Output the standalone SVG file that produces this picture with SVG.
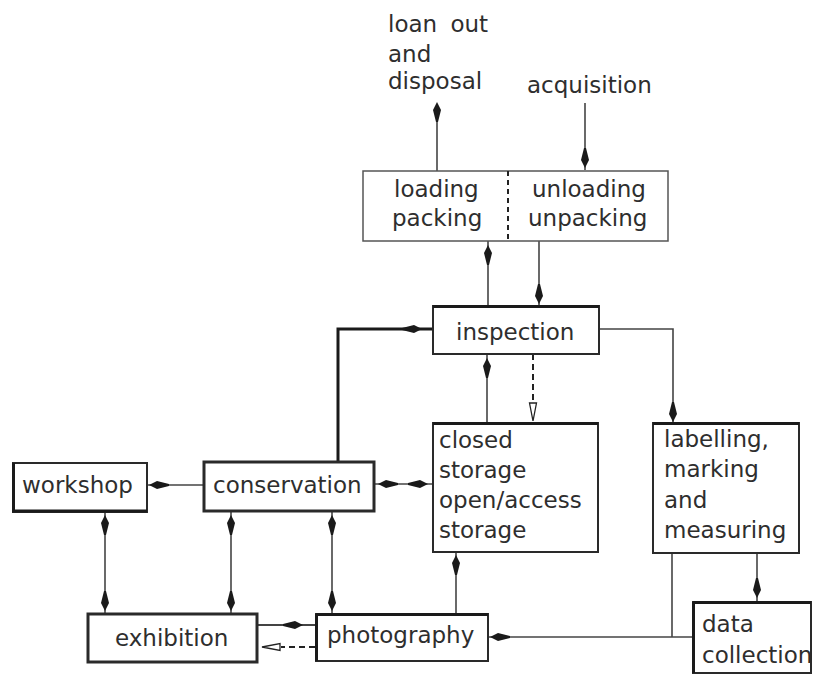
<svg xmlns="http://www.w3.org/2000/svg" xmlns:xlink="http://www.w3.org/1999/xlink" width="813" height="675" viewBox="0 0 813 675">
<style>
  text { font-family: "DejaVu Sans", "Liberation Sans", sans-serif; font-size: 23px; fill: #2e2e2e; }
  .box { fill: #ffffff; stroke: #2a2a2a; stroke-width: 2; }
  .thin { stroke-width: 1.5; stroke: #555; }
  .thick { stroke-width: 3; }
  .ln { fill: none; stroke: #444; stroke-width: 1.6; }
  .hv { fill: none; stroke: #1a1a1a; stroke-width: 3; }
  .ds { fill: none; stroke: #222; stroke-width: 2; stroke-dasharray: 6 4; }
  .ah { fill: #1a1a1a; }
  .oh { fill: #ffffff; stroke: #222; stroke-width: 1.3; }
</style>
<defs>
  <polygon id="ah" class="ah" points="0,0 -8,-4 -20,-1 -20,1 -8,4"/>
  <polygon id="oh" class="oh" points="0,0 -18,-3.5 -18,3.5"/>
</defs>
<rect width="813" height="675" fill="#ffffff"/>

<g id="connectors">
  <!-- loan out -->
  <line class="ln" x1="437" y1="171" x2="437" y2="104"/>
  <use href="#ah" transform="translate(437,102) rotate(-90)"/>
  <!-- acquisition -->
  <line class="ln" x1="585" y1="103" x2="585" y2="170"/>
  <use href="#ah" transform="translate(585,168) rotate(90)"/>
  <!-- inspection -> loading -->
  <line class="ln" x1="488" y1="306" x2="488" y2="241"/>
  <use href="#ah" transform="translate(488,245) rotate(-90)"/>
  <!-- unloading -> inspection -->
  <line class="ln" x1="539" y1="241" x2="539" y2="306"/>
  <use href="#ah" transform="translate(539,304) rotate(90)"/>
  <!-- storage -> inspection -->
  <line class="ln" x1="487" y1="423" x2="487" y2="354"/>
  <use href="#ah" transform="translate(487,358) rotate(-90)"/>
  <!-- dashed inspection -> storage -->
  <line class="ds" x1="533" y1="354" x2="533" y2="400"/>
  <use href="#oh" transform="translate(533,421) rotate(90)"/>
  <!-- conservation -> inspection (heavy) -->
  <polyline class="hv" points="338,462 338,329 433,329"/>
  <use href="#ah" transform="translate(422,329)"/>
  <!-- inspection -> labelling -->
  <polyline class="ln" points="599,329 673,329 673,422"/>
  <use href="#ah" transform="translate(673,422) rotate(90)"/>
  <!-- labelling -> data collection -->
  <line class="ln" x1="757" y1="553" x2="757" y2="602"/>
  <use href="#ah" transform="translate(757,598) rotate(90)"/>
  <!-- labelling / data collection -> photography -->
  <line class="ln" x1="672" y1="553" x2="672" y2="637"/>
  <line class="ln" x1="693" y1="637" x2="488" y2="637"/>
  <use href="#ah" transform="translate(490,637) rotate(180)"/>
  <!-- photography -> storage -->
  <line class="ln" x1="456" y1="614" x2="456" y2="552"/>
  <use href="#ah" transform="translate(456,555) rotate(-90)"/>
  <!-- conservation -> workshop -->
  <line class="ln" x1="203" y1="485" x2="147" y2="485"/>
  <use href="#ah" transform="translate(149,485) rotate(180)"/>
  <!-- conservation <-> storage -->
  <line class="ln" x1="374" y1="484" x2="433" y2="484"/>
  <use href="#ah" transform="translate(378,484) rotate(180)"/>
  <use href="#ah" transform="translate(428,484)"/>
  <!-- workshop <-> exhibition -->
  <line class="ln" x1="105" y1="512" x2="105" y2="614"/>
  <use href="#ah" transform="translate(105,515) rotate(-90)"/>
  <use href="#ah" transform="translate(105,611) rotate(90)"/>
  <!-- conservation <-> exhibition -->
  <line class="ln" x1="231" y1="511" x2="231" y2="614"/>
  <use href="#ah" transform="translate(231,515) rotate(-90)"/>
  <use href="#ah" transform="translate(231,611) rotate(90)"/>
  <!-- conservation <-> photography -->
  <line class="ln" x1="332" y1="511" x2="332" y2="614"/>
  <use href="#ah" transform="translate(332,515) rotate(-90)"/>
  <use href="#ah" transform="translate(332,611) rotate(90)"/>
  <!-- exhibition -> photography -->
  <line class="ln" x1="257" y1="625" x2="315" y2="625" style="stroke-width:2.2"/>
  <use href="#ah" transform="translate(303,625)"/>
  <!-- dashed photography -> exhibition -->
  <line class="ds" x1="315" y1="647" x2="281" y2="647"/>
  <use href="#oh" transform="translate(262,647) rotate(180)"/>
</g>

<g id="loan-out">
  <text x="388" y="32" word-spacing="6">loan out</text>
  <text x="388" y="62">and</text>
  <text x="388" y="89">disposal</text>
</g>
<g id="acquisition">
  <text x="527" y="93">acquisition</text>
</g>

<g id="loading">
  <rect class="box thin" x="363" y="171" width="305" height="70"/>
  <line x1="508" y1="171" x2="508" y2="241" stroke="#222" stroke-width="2" stroke-dasharray="5 4"/>
  <text x="394" y="197">loading</text>
  <text x="392" y="226">packing</text>
  <text x="532" y="197">unloading</text>
  <text x="528" y="226">unpacking</text>
</g>

<g id="inspection">
  <rect class="box" x="433" y="306" width="166" height="48"/>
  <line x1="433" y1="306.5" x2="599" y2="306.5" stroke="#1a1a1a" stroke-width="3"/>
  <text x="456" y="340">inspection</text>
</g>

<g id="storage">
  <rect class="box" x="433" y="423" width="165" height="129"/>
  <line x1="433" y1="423.5" x2="598" y2="423.5" stroke="#1a1a1a" stroke-width="3"/>
  <text x="439" y="448">closed</text>
  <text x="439" y="478">storage</text>
  <text x="439" y="508">open/access</text>
  <text x="439" y="538">storage</text>
</g>

<g id="labelling">
  <rect class="box" x="653" y="423" width="146" height="130"/>
  <line x1="653" y1="423.5" x2="799" y2="423.5" stroke="#1a1a1a" stroke-width="3"/>
  <text x="664" y="447">labelling,</text>
  <text x="664" y="477">marking</text>
  <text x="664" y="508">and</text>
  <text x="664" y="538">measuring</text>
</g>

<g id="workshop">
  <rect class="box" x="13" y="463" width="134" height="49"/>
  <polyline points="13.5,463 13.5,511 147,511" fill="none" stroke="#1a1a1a" stroke-width="3"/>
  <text x="22" y="493">workshop</text>
</g>

<g id="conservation">
  <rect class="box thick" x="204" y="462" width="170" height="49"/>
  <text x="213" y="493">conservation</text>
</g>

<g id="exhibition">
  <rect class="box thick" x="88" y="614" width="169" height="48"/>
  <text x="115" y="646">exhibition</text>
</g>

<g id="photography">
  <rect class="box" x="316" y="614" width="172" height="47"/>
  <line x1="316" y1="614.5" x2="488" y2="614.5" stroke="#1a1a1a" stroke-width="3"/>
  <line x1="316.5" y1="614" x2="316.5" y2="661" stroke="#1a1a1a" stroke-width="3"/>
  <text x="327" y="643">photography</text>
</g>

<g id="data-collection">
  <rect class="box" x="693" y="602" width="118" height="71"/>
  <line x1="693" y1="602.5" x2="811" y2="602.5" stroke="#1a1a1a" stroke-width="3"/>
  <line x1="693.5" y1="602" x2="693.5" y2="673" stroke="#1a1a1a" stroke-width="3"/>
  <text x="702" y="632">data</text>
  <text x="702" y="663">collection</text>
</g>
</svg>
